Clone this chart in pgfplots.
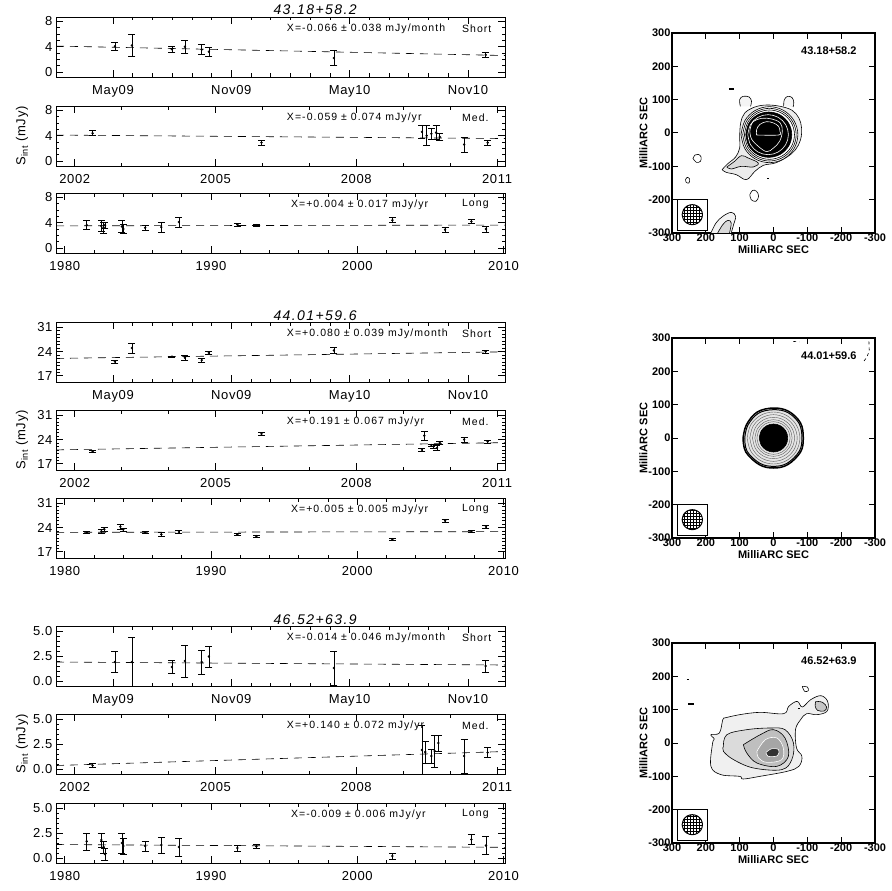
\documentclass[border=0pt]{standalone}
\usepackage{fontspec}
\setmainfont{Liberation Sans}
\newfontfamily\hersh{Liberation Sans}[LetterSpace=5]
\newfontfamily\hershw{Liberation Sans}[LetterSpace=10]
\usepackage{pgfplots}
\pgfplotsset{compat=1.18}
\usetikzlibrary{patterns}
\newcommand\tickf{\hersh\fontsize{13}{14}\selectfont}
\newcommand\annf{\hershw\fontsize{10.5}{12}\selectfont}
\newcommand\titf{\hershw\itshape\fontsize{14}{15}\selectfont}
\newcommand\mapf{\bfseries\fontsize{11}{12}\selectfont}
\tikzset{
  annot/.style={anchor=west, font=\annf, inner sep=0pt},
  titl/.style={anchor=base, font=\titf, inner sep=0pt, yshift=2pt},
  maptxt/.style={anchor=east, font=\mapf, inner sep=0pt},
}
\pgfplotsset{
  lc/.style={scale only axis, width=449pt, height=60pt, anchor=north west, clip mode=individual,
    axis line style={line width=0.7pt}, every tick/.style={black, line width=0.6pt},
    major tick length=7pt, minor tick length=3.5pt,
    tick label style={font=\tickf}, xticklabel style={yshift=-5pt}},
  short/.style={lc, xmin=1.11, xmax=23.88, xtick={4,10,16,22}, xticklabels={May09,Nov09,May10,Nov10}, minor x tick num=5},
  med/.style={lc, xmin=2001.6, xmax=2011.17, xtick={2002,2005,2008,2011}, xticklabels={2002,2005,2008,2011}, minor x tick num=2},
  long/.style={lc, xmin=1979.4, xmax=2010.1, xtick={1980,1990,2000,2010}, xticklabels={1980,1990,2000,2010}, minor x tick num=4},
  ga/.style={ymin=-0.8, ymax=8.7, ytick={0,4,8}, yticklabels={0,4,8}, minor y tick num=3},
  gb/.style={ymin=15.2, ymax=32.5, ytick={17,24,31}, yticklabels={17,24,31}, minor y tick num=6},
  gc/.style={ymin=-0.5, ymax=5.5, ytick={0,2.5,5}, yticklabels={0.0,2.5,5.0}, minor y tick num=4},
  pts/.style={black, only marks, mark=*, mark size=1pt,
    error bars/y dir=both, error bars/y explicit,
    error bars/error bar style={line width=0.6pt, black},
    error bars/error mark options={rotate=90, mark size=3.5pt, line width=0.6pt, black}},
  fit/.style={black, line width=0.6pt, dash pattern=on 8pt off 6pt, no marks},
  map/.style={scale only axis, width=203pt, height=200pt, anchor=north west, clip mode=individual,
    x dir=reverse, xmin=-300, xmax=300, ymin=-300, ymax=300,
    xtick={-300,-200,-100,0,100,200,300}, xticklabels={-300,-200,-100,0,100,200,300},
    ytick={-300,-200,-100,0,100,200,300}, yticklabels={-300,-200,-100,0,100,200,300},
    axis line style={line width=1.3pt}, every tick/.style={black, line width=1pt}, major tick length=6pt,
    tick label style={font=\mapf}, xticklabel style={yshift=3pt}, yticklabel style={xshift=2pt},
    xlabel={MilliARC SEC}, ylabel={MilliARC SEC}, label style={font=\mapf},
    xlabel style={yshift=3pt}, ylabel style={yshift=-6pt}},
  ctr/.style={black, line width=0.6pt, smooth, tension=0.6, no marks},
}
\begin{document}
\begin{tikzpicture}
\path[use as bounding box] (0,0) rectangle (891pt,-891pt);

% ================= GROUP 1 =================
\begin{axis}[short, ga, at={(56pt,-17pt)}]
\addplot[fit] coordinates {(1.11,4.1) (23.88,2.6)};
\addplot[pts] coordinates {(4.1,4.06)+-(0,0.7) (4.96,4.2)+-(0,1.8) (6.99,3.6)+-(0,0.45) (7.65,4.0)+-(0,1.05) (8.5,3.55)+-(0,0.8) (8.86,3.2)+-(0,0.65) (15.2,2.2)+-(0,1.15) (22.9,2.7)+-(0,0.45)};
\node[annot] at (rel axis cs:0.514,0.81) {X=-0.066 ± 0.038 mJy/month};
\node[annot] at (rel axis cs:0.904,0.81) {Short};
\node[titl] at (rel axis cs:0.577,1) {43.18+58.2};
\end{axis}
\begin{axis}[med, ga, at={(56pt,-106pt)}]
\addplot[fit] coordinates {(2001.6,4.1) (2011.17,3.55)};
\addplot[pts] coordinates {(2002.38,4.4)+-(0,0.4) (2005.98,2.9)+-(0,0.4) (2009.4,4.6)+-(0,1.0) (2009.5,4.0)+-(0,1.6) (2009.6,4.3)+-(0,0.8) (2009.7,4.5)+-(0,1.1) (2009.78,3.8)+-(0,0.6) (2010.3,2.6)+-(0,1.2) (2010.8,2.9)+-(0,0.35)};
\node[annot] at (rel axis cs:0.514,0.81) {X=-0.059 ± 0.074 mJy/yr};
\node[annot] at (rel axis cs:0.904,0.81) {Med.};
\end{axis}
\begin{axis}[long, ga, at={(56pt,-193pt)}]
\addplot[fit] coordinates {(1979.4,3.5) (2010.1,3.62)};
\addplot[pts] coordinates {(1981.5,3.6)+-(0,0.7) (1982.5,3.5)+-(0,0.8) (1982.65,3.2)+-(0,0.9) (1982.75,3.6)+-(0,0.5) (1983.9,3.4)+-(0,0.9) (1984.0,3.0)+-(0,0.7) (1985.5,3.2)+-(0,0.4) (1986.6,3.3)+-(0,0.8) (1987.8,4.1)+-(0,0.8) (1991.8,3.7)+-(0,0.25) (1993.1,3.6)+-(0,0.2) (2002.4,4.4)+-(0,0.4) (2006.0,2.9)+-(0,0.4) (2007.8,4.2)+-(0,0.3) (2008.8,3.0)+-(0,0.5)};
\node[annot] at (rel axis cs:0.523,0.81) {X=+0.004 ± 0.017 mJy/yr};
\node[annot] at (rel axis cs:0.904,0.81) {Long};
\end{axis}
\node[rotate=90, font=\tickf] at (22pt,-136pt) {S\textsubscript{int} (mJy)};

% ================= GROUP 2 =================
\begin{axis}[short, gb, at={(56pt,-322pt)}]
\addplot[fit] coordinates {(1.11,22.0) (23.88,23.9)};
\addplot[pts] coordinates {(4.1,21.1)+-(0,0.5) (4.96,25.0)+-(0,1.4) (6.99,22.5)+-(0,0.2) (7.65,22.2)+-(0,0.7) (8.5,21.5)+-(0,0.6) (8.86,23.6)+-(0,0.5) (15.2,24.3)+-(0,0.8) (22.9,24.0)+-(0,0.4)};
\node[annot] at (rel axis cs:0.514,0.81) {X=+0.080 ± 0.039 mJy/month};
\node[annot] at (rel axis cs:0.904,0.81) {Short};
\node[titl] at (rel axis cs:0.577,1) {44.01+59.6};
\end{axis}
\begin{axis}[med, gb, at={(56pt,-410pt)}]
\addplot[fit] coordinates {(2001.6,21.0) (2011.17,23.1)};
\addplot[pts] coordinates {(2002.38,20.6)+-(0,0.3) (2005.98,25.6)+-(0,0.4) (2009.4,21.0)+-(0,0.5) (2009.45,25.1)+-(0,1.3) (2009.6,22.4)+-(0,0.3) (2009.65,22.0)+-(0,0.5) (2009.72,21.6)+-(0,0.7) (2009.78,23.0)+-(0,0.5) (2010.3,24.0)+-(0,0.7) (2010.8,23.4)+-(0,0.4)};
\node[annot] at (rel axis cs:0.514,0.81) {X=+0.191 ± 0.067 mJy/yr};
\node[annot] at (rel axis cs:0.904,0.81) {Med.};
\end{axis}
\begin{axis}[long, gb, at={(56pt,-498pt)}]
\addplot[fit] coordinates {(1979.4,22.6) (2010.1,22.8)};
\addplot[pts] coordinates {(1981.5,22.6)+-(0,0.4) (1982.5,22.9)+-(0,0.5) (1982.7,23.5)+-(0,0.5) (1983.8,24.2)+-(0,0.7) (1984.0,23.4)+-(0,0.5) (1985.5,22.5)+-(0,0.3) (1986.6,22.0)+-(0,0.5) (1987.8,22.7)+-(0,0.5) (1991.8,22.0)+-(0,0.3) (1993.1,21.5)+-(0,0.3) (2002.4,20.6)+-(0,0.3) (2006.0,26.0)+-(0,0.4) (2007.8,22.9)+-(0,0.2) (2008.8,24.2)+-(0,0.5)};
\node[annot] at (rel axis cs:0.523,0.81) {X=+0.005 ± 0.005 mJy/yr};
\node[annot] at (rel axis cs:0.904,0.81) {Long};
\end{axis}
\node[rotate=90, font=\tickf] at (22pt,-440pt) {S\textsubscript{int} (mJy)};

% ================= GROUP 3 =================
\begin{axis}[short, gc, at={(56pt,-626pt)}]
\addplot[fit] coordinates {(1.11,1.9) (23.88,1.6)};
\addplot[pts] coordinates {(4.1,1.9)+-(0,1.05) (4.96,1.9)+-(0,2.45) (6.99,1.4)+-(0,0.65) (7.65,2.0)+-(0,1.6) (8.5,1.9)+-(0,1.2) (8.86,2.45)+-(0,1.05) (15.2,1.3)+-(0,1.7) (22.9,1.5)+-(0,0.6)};
\node[annot] at (rel axis cs:0.514,0.81) {X=-0.014 ± 0.046 mJy/month};
\node[annot] at (rel axis cs:0.904,0.81) {Short};
\node[titl] at (rel axis cs:0.577,1) {46.52+63.9};
\end{axis}
\begin{axis}[med, gc, at={(56pt,-714pt)}]
\addplot[fit] coordinates {(2001.6,0.35) (2011.17,1.75)};
\addplot[pts] coordinates {(2002.38,0.35)+-(0,0.2) (2009.4,1.9)+-(0,2.5) (2009.47,1.7)+-(0,1.1) (2009.6,1.3)+-(0,0.7) (2009.67,1.8)+-(0,1.6) (2009.75,2.6)+-(0,0.8) (2010.3,1.3)+-(0,1.7) (2010.8,1.65)+-(0,0.5)};
\node[annot] at (rel axis cs:0.514,0.81) {X=+0.140 ± 0.072 mJy/yr};
\node[annot] at (rel axis cs:0.904,0.81) {Med.};
\end{axis}
\begin{axis}[long, gc, at={(56pt,-803pt)}]
\addplot[fit] coordinates {(1979.4,1.35) (2010.1,1.07)};
\addplot[pts] coordinates {(1981.5,1.67)+-(0,0.85) (1982.5,1.8)+-(0,0.7) (1982.65,1.1)+-(0,0.6) (1982.75,0.4)+-(0,0.6) (1983.9,1.5)+-(0,1.0) (1984.0,1.2)+-(0,0.8) (1985.5,1.2)+-(0,0.5) (1986.6,1.3)+-(0,0.8) (1987.8,1.1)+-(0,0.9) (1991.8,1.0)+-(0,0.3) (1993.1,1.15)+-(0,0.2) (2002.4,0.2)+-(0,0.3) (2007.8,1.85)+-(0,0.5) (2008.8,1.25)+-(0,0.9)};
\node[annot] at (rel axis cs:0.523,0.81) {X=-0.009 ± 0.006 mJy/yr};
\node[annot] at (rel axis cs:0.904,0.81) {Long};
\end{axis}
\node[rotate=90, font=\tickf] at (22pt,-744pt) {S\textsubscript{int} (mJy)};

% ================= MAP 1 =================
\begin{axis}[map, at={(672pt,-33pt)}]
\addplot[ctr, fill=gray!15] coordinates {(152,-110) (135,-92) (112,-72) (100,-45) (100,-10) (97,30) (85,60) (55,78) (20,84) (-20,80) (-55,68) (-75,45) (-83,15) (-80,-20) (-65,-50) (-40,-72) (-5,-90) (30,-97) (55,-115) (80,-140) (110,-125) (140,-118) (152,-110)};
\addplot[ctr, fill=gray!30] coordinates {(138,-102) (115,-85) (95,-68) (75,-75) (45,-90) (60,-102) (95,-100) (125,-108) (138,-102)};
\addplot[ctr, fill=white] coordinates {(96,-5) (84.7,37) (54,67.7) (12,79) (-30,67.7) (-60.7,37) (-72,-5) (-60.7,-47) (-30,-77.7) (12,-89) (54,-77.7) (84.7,-47) (96,-5)};
\addplot[ctr] coordinates {(91,-5) (80.4,34.5) (51.5,63.4) (12,74) (-27.5,63.4) (-56.4,34.5) (-67,-5) (-56.4,-44.5) (-27.5,-73.4) (12,-84) (51.5,-73.4) (80.4,-44.5) (91,-5)};
\addplot[ctr] coordinates {(86,-5) (76.1,32) (49,59.1) (12,69) (-25,59.1) (-52.1,32) (-62,-5) (-52.1,-42) (-25,-69.1) (12,-79) (49,-69.1) (76.1,-42) (86,-5)};
\addplot[ctr, fill=black] coordinates {(82,-5) (72.9,29) (48,53.9) (14,63) (-20,53.9) (-44.9,29) (-54,-5) (-44.9,-39) (-20,-63.9) (14,-73) (48,-63.9) (72.9,-39) (82,-5)};
\addplot[ctr, draw=white] coordinates {(76,-5) (68,25) (46,47) (16,55) (-14,47) (-36,25) (-44,-5) (-36,-35) (-14,-57) (16,-65) (46,-57) (68,-35) (76,-5)};
\addplot[ctr, draw=white] coordinates {(70,5) (62,32) (35,44) (5,42) (-20,30) (-26,5) (-18,-25) (0,-45) (20,-56) (45,-40) (65,-18) (70,5)};
\addplot[ctr, draw=white] coordinates {(50,-6) (50,10) (40,26) (20,34) (0,30) (-15,20) (-19,5) (-15,-6) (50,-6)};
\addplot[ctr, fill=gray!8] coordinates {(98,80) (100,100) (90,110) (72,108) (65,95) (68,80)};
\addplot[ctr, fill=gray!8] coordinates {(-30,80) (-32,100) (-42,110) (-55,106) (-60,92) (-58,78)};
\addplot[ctr] coordinates {(238,-76) (232,-66) (222,-64) (214,-72) (216,-85) (228,-88) (238,-76)};
\addplot[ctr] coordinates {(260,-140) (255,-133) (248,-138) (250,-150) (258,-148) (260,-140)};
\addplot[ctr] coordinates {(70,-185) (62,-172) (50,-175) (44,-190) (52,-205) (66,-200) (70,-185)};
\addplot[ctr, fill=gray!10] coordinates {(185,-300) (170,-270) (150,-250) (125,-238) (112,-250) (118,-275) (125,-300)};
\addplot[ctr, fill=gray!30] coordinates {(165,-300) (150,-275) (135,-262) (125,-270) (130,-300)};
\addplot[black, line width=1.2pt, no marks] coordinates {(132,132) (116,132)};
\addplot[black, line width=1.2pt, no marks] coordinates {(18,-137) (12,-137)};
\addplot[black, line width=0.8pt, no marks, fill=white] coordinates {(283,-200) (195,-200) (195,-292) (283,-292) (283,-200)};
\addplot[ctr, line width=1pt, pattern=grid] coordinates {(270,-245) (266,-230) (255,-219) (240,-215) (225,-219) (214,-230) (210,-245) (214,-260) (225,-271) (240,-275) (255,-271) (266,-260) (270,-245)};
\node[maptxt] at (rel axis cs:0.91,0.91) {43.18+58.2};
\end{axis}

% ================= MAP 2 =================
\begin{axis}[map, at={(672pt,-338pt)}]
\addplot[ctr, line width=1.5pt, fill=gray!20] coordinates {(90,0) (80,40) (48,78) (0,90) (-45,80) (-80,45) (-88,0) (-80,-42) (-42,-80) (0,-90) (42,-80) (82,-42) (90,0)};
\addplot[ctr, line width=1pt] coordinates {(85,0) (76,38) (45,74) (0,85) (-43,76) (-76,43) (-84,0) (-76,-40) (-40,-76) (0,-85) (40,-76) (78,-40) (85,0)};
\addplot[ctr, draw=gray!70!black, line width=0.4pt] coordinates {(78,0) (67.5,39) (39,67.5) (0,78) (-39,67.5) (-67.5,39) (-78,0) (-67.5,-39) (-39,-67.5) (0,-78) (39,-67.5) (67.5,-39) (78,0)};
\addplot[ctr, draw=gray!70!black, line width=0.4pt] coordinates {(70,0) (60.6,35) (35,60.6) (0,70) (-35,60.6) (-60.6,35) (-70,0) (-60.6,-35) (-35,-60.6) (0,-70) (35,-60.6) (60.6,-35) (70,0)};
\addplot[ctr, draw=gray!70!black, line width=0.4pt] coordinates {(62,0) (53.7,31) (31,53.7) (0,62) (-31,53.7) (-53.7,31) (-62,0) (-53.7,-31) (-31,-53.7) (0,-62) (31,-53.7) (53.7,-31) (62,0)};
\addplot[ctr, draw=gray!70!black, line width=0.4pt] coordinates {(55,0) (47.6,27.5) (27.5,47.6) (0,55) (-27.5,47.6) (-47.6,27.5) (-55,0) (-47.6,-27.5) (-27.5,-47.6) (0,-55) (27.5,-47.6) (47.6,-27.5) (55,0)};
\addplot[ctr, draw=gray!70!black, line width=0.4pt] coordinates {(49,0) (42.4,24.5) (24.5,42.4) (0,49) (-24.5,42.4) (-42.4,24.5) (-49,0) (-42.4,-24.5) (-24.5,-42.4) (0,-49) (24.5,-42.4) (42.4,-24.5) (49,0)};
\addplot[ctr, fill=black] coordinates {(42,0) (36.4,21) (21,36.4) (0,42) (-21,36.4) (-36.4,21) (-42,0) (-36.4,-21) (-21,-36.4) (0,-42) (21,-36.4) (36.4,-21) (42,0)};
\addplot[black, line width=0.6pt, dashed, no marks] coordinates {(-282,290) (-283,262) (-276,242) (-265,228)};
\addplot[black, line width=0.6pt, dashed, no marks] coordinates {(-58,290) (-76,288)};
\addplot[black, line width=0.8pt, no marks, fill=white] coordinates {(283,-200) (195,-200) (195,-292) (283,-292) (283,-200)};
\addplot[ctr, line width=1pt, pattern=grid] coordinates {(270,-245) (266,-230) (255,-219) (240,-215) (225,-219) (214,-230) (210,-245) (214,-260) (225,-271) (240,-275) (255,-271) (266,-260) (270,-245)};
\node[maptxt] at (rel axis cs:0.91,0.91) {44.01+59.6};
\end{axis}

% ================= MAP 3 =================
\begin{axis}[map, at={(672pt,-643pt)}]
\addplot[ctr, fill=gray!12] coordinates {(145,75) (100,85) (40,92) (-30,88) (-45,110) (-70,125) (-85,108) (-110,130) (-140,142) (-160,125) (-158,95) (-128,85) (-98,88) (-80,70) (-65,40) (-68,-15) (-84,-40) (-75,-70) (-40,-85) (40,-100) (90,-108) (100,-100) (155,-95) (185,-70) (180,0) (175,12) (185,25) (160,30) (150,70) (145,75)};
\addplot[ctr, fill=gray!45] coordinates {(-125,125) (-145,122) (-157,108) (-150,96) (-130,98) (-123,112) (-125,125)};
\addplot[ctr] coordinates {(-85,170) (-100,168) (-103,157) (-92,155) (-85,170)};
\addplot[ctr, fill=gray!28] coordinates {(148,-10) (138,25) (79,40) (10,45) (-34,40) (-59,0) (-54,-50) (-24,-80) (59,-75) (118,-50) (148,-25) (148,-10)};
\addplot[ctr, fill=gray!50] coordinates {(89,-5) (39,25) (0,40) (-34,15) (-44,-40) (-10,-70) (49,-60) (79,-30) (89,-5)};
\addplot[ctr, draw=white, fill=gray!70] coordinates {(49,-25) (24,10) (-10,15) (-29,-15) (-24,-50) (20,-58) (44,-45) (49,-25)};
\addplot[ctr, draw=white, fill=black!80] coordinates {(22,-28) (5,-17) (-15,-20) (-12,-38) (16,-40) (22,-28)};
\addplot[black, line width=1.2pt, no marks] coordinates {(256,190) (250,190)};
\addplot[black, line width=1.2pt, no marks] coordinates {(252,117) (236,117)};
\addplot[black, line width=1.2pt, no marks] coordinates {(-72,103) (-77,103)};
\addplot[black, line width=0.8pt, no marks, fill=white] coordinates {(283,-200) (195,-200) (195,-292) (283,-292) (283,-200)};
\addplot[ctr, line width=1pt, pattern=grid] coordinates {(270,-245) (266,-230) (255,-219) (240,-215) (225,-219) (214,-230) (210,-245) (214,-260) (225,-271) (240,-275) (255,-271) (266,-260) (270,-245)};
\node[maptxt] at (rel axis cs:0.91,0.91) {46.52+63.9};
\end{axis}
\end{tikzpicture}
\end{document}
